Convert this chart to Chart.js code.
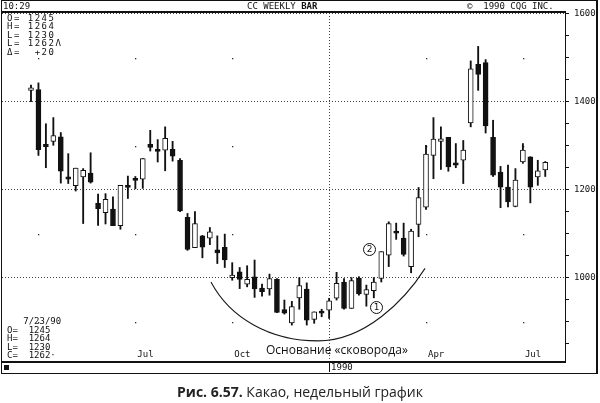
<!DOCTYPE html>
<html><head><meta charset="utf-8">
<script src="https://cdn.jsdelivr.net/npm/chart.js@4.4.1/dist/chart.umd.min.js"></script>
<style>
body{margin:0;background:#fff;}
#page{position:relative;width:600px;height:403px;overflow:hidden;background:#fff;}
#wrap{position:absolute;left:0;top:0;width:600px;height:374px;}
.a{position:absolute;}
.t{position:absolute;font-family:"DejaVu Sans Mono",monospace;font-size:9px;color:#111;white-space:pre;line-height:1;}
.ln{position:absolute;background:#111;}
.circ{position:absolute;width:11px;height:11px;border:1px solid #111;border-radius:50%;font-family:"DejaVu Sans",sans-serif;font-size:9px;line-height:11px;text-align:center;color:#111;background:#fff;}
</style></head><body>
<div id="page">
  <div id="wrap"><canvas id="c"></canvas></div>
  <div class="a" style="left:1px;top:0;width:597px;height:374px;box-sizing:border-box;border-top:1px solid #111;border-left:1px solid #111;border-right:2px solid #111;border-bottom:1px solid #111;"></div>
  <div class="ln" style="left:1px;top:11px;width:565px;height:2px;"></div>
  <div class="ln" style="left:1px;top:361px;width:565px;height:2px;"></div>
  <div class="ln" style="left:4px;top:365px;width:5px;height:5px;"></div>
  <div class="t" style="left:3px;top:2px;">10:29</div>
  <div class="t" style="left:247px;top:2px;">CC WEEKLY <b>BAR</b></div>
  <div class="t" style="left:467px;top:2px;">©  1990 CQG INC.</div>
  <div class="t" style="left:7px;top:14px;line-height:8.4px;letter-spacing:1.5px;">O= 1245
H= 1264
L= 1230
L= 1262Λ
Δ=  +20</div>
  <div class="t" style="left:7px;top:317px;line-height:8.5px;">   7/23/90
O=  1245
H=  1264
L=  1230
C=  1262·</div>
  <div class="a" style="left:266px;top:342px;font-family:'Open Sans',sans-serif;font-size:12px;line-height:16px;color:#111;white-space:nowrap;">Основание «сковорода»</div>
  <div class="circ" style="left:363px;top:243px;">2</div>
  <div class="circ" style="left:370px;top:301px;">1</div>
  <div class="a" style="left:0;top:383px;width:600px;text-align:center;font-family:'Open Sans',sans-serif;font-size:14px;line-height:18px;color:#222;white-space:nowrap;"><b>Рис. 6.57.</b> Какао, недельный график</div>
</div>
<script>
// Weekly cocoa candles, 3/27/89 .. 7/23/90 (index 0..69)
const opens  = [1426,1428,1303,1310,1320,1229,1209,1229,1238,1169,
                1148,1156,1118,1210,1226,1224,1303,1292,1290,1292,
                1267,1137,1068,1095,1090,1063,1069,1000,1013,985,
                1002,976,974,996,927,897,954,974,905,924,
                926,953,990,930,999,962,970,998,1051,1106,
                1090,1025,1121,1160,1278,1310,1319,1261,1267,1352,
                1485,1489,1319,1240,1206,1162,1263,1275,1229,1245];
const highs  = [1438,1443,1350,1364,1330,1282,1249,1248,1284,1190,
                1191,1184,1210,1231,1230,1271,1335,1314,1343,1310,
                1271,1146,1150,1096,1114,1095,1099,1034,1023,1027,
                1040,985,1008,998,949,946,1000,988,922,928,
                953,1012,998,1000,1002,983,1000,1059,1127,1124,
                1124,1110,1205,1301,1364,1343,1319,1305,1312,1493,
                1526,1496,1358,1253,1256,1248,1305,1275,1267,1264];
const lows   = [1400,1278,1250,1301,1215,1214,1197,1123,1215,1119,
                1122,1118,1110,1180,1202,1203,1288,1263,1243,1265,
                1150,1062,1068,1045,1075,1032,1023,994,975,979,
                955,958,960,920,917,892,928,892,896,911,
                907,949,928,930,960,935,954,990,1025,1087,
                1049,1011,1093,1155,1225,1246,1242,1250,1214,1343,
                1426,1329,1230,1159,1161,1161,1260,1170,1210,1230];
const closes = [1432,1291,1298,1323,1242,1224,1249,1244,1217,1157,
                1178,1118,1210,1205,1221,1271,1296,1287,1317,1276,
                1152,1064,1123,1069,1104,1056,1040,1006,996,996,
                974,968,998,921,919,934,982,903,922,919,
                947,987,930,993,963,973,990,1059,1123,1101,
                1053,1106,1182,1281,1315,1316,1252,1256,1290,1475,
                1462,1345,1233,1206,1172,1222,1290,1206,1243,1262];

const monthTicks  = [14, 27, 53, 66];
const monthLabels = ['Jul', 'Oct', 'Apr', 'Jul'];
const yearTicks   = [40];
const yearLabels  = ['1990'];
const quarterDots = [1, 14, 27, 53, 66];
const midLevels   = [900, 1100, 1300, 1500];
const yMinorTicks = [850,900,950,1000,1050,1100,1150,1200,1250,1300,1350,1400,1450,1500,1550,1600];
const yTickLabels = [1000, 1200, 1400, 1600];
// "pan" annotation arc anchors (week index, price)
const panArc = [[24.15,990],[26.7,908],[32.07,856],[38.51,856],[44.81,856],[50.18,949],[52.87,1021]];

const X_MIN = -3.89, X_MAX = 71.65, Y_MIN = 808, Y_MAX = 1602;
const mono = {family:'DejaVu Sans Mono', size:9};

const bodies = opens.map((o,i)=>({x:i, y:[o, closes[i]]}));
const wicks  = lows.map((l,i)=>({x:i, y:[l, highs[i]]}));
const bodyFill = opens.map((o,i)=> closes[i] >= o ? '#ffffff' : '#111111');

const decor = {
  id:'decor',
  beforeDatasetsDraw(chart){
    const {ctx, scales:{x, y}} = chart;
    ctx.save(); ctx.fillStyle = '#333';
    for (const q of quarterDots) for (const p of midLevels) {
      ctx.fillRect(Math.round(x.getPixelForValue(q)), Math.round(y.getPixelForValue(p)), 1.3, 1.3);
    }
    ctx.restore();
  },
  afterDatasetsDraw(chart){
    const {ctx, scales:{x, y}} = chart;
    const P = panArc.map(p=>[x.getPixelForValue(p[0]), y.getPixelForValue(p[1])]);
    ctx.save();
    ctx.strokeStyle = '#1a1a1a'; ctx.lineWidth = 1.1;
    ctx.beginPath();
    ctx.moveTo(P[0][0], P[0][1]);
    ctx.bezierCurveTo(P[1][0],P[1][1],P[2][0],P[2][1],P[3][0],P[3][1]);
    ctx.bezierCurveTo(P[4][0],P[4][1],P[5][0],P[5][1],P[6][0],P[6][1]);
    ctx.stroke();
    ctx.restore();
  }
};

new Chart(document.getElementById('c'), {
  type:'bar',
  data:{
    datasets:[
      {label:'body', data:bodies, backgroundColor:bodyFill, borderColor:'#111', borderWidth:1,
       borderSkipped:false, barThickness:5, grouped:false, xAxisID:'x', yAxisID:'y'},
      {label:'wick', data:wicks, backgroundColor:'#111', borderWidth:0,
       barThickness:1.2, grouped:false, xAxisID:'x', yAxisID:'y'}
    ]
  },
  options:{
    responsive:true, maintainAspectRatio:false, animation:false,
    layout:{padding:{left:2, top:13, right:0, bottom:0}},
    plugins:{legend:{display:false}, tooltip:{enabled:false}},
    scales:{
      x:{
        type:'linear', min:X_MIN, max:X_MAX, offset:false, position:'bottom', weight:1,
        afterBuildTicks:s=>{ s.ticks = yearTicks.map(v=>({value:v})); },
        afterFit:s=>{ s.height = 12; },
        ticks:{callback:(v,i)=>yearLabels[i], align:'start', labelOffset:2, padding:-10,
               font:mono, color:'#111', autoSkip:false, maxRotation:0, minRotation:0},
        grid:{display:true, offset:false, drawOnChartArea:true, drawTicks:true, tickLength:10,
              color:'#444', lineWidth:1, tickColor:'#111', tickWidth:1, tickBorderDash:[]},
        border:{display:false, dash:[1,2]}
      },
      x2:{
        type:'linear', min:X_MIN, max:X_MAX, offset:false, position:'bottom', weight:0,
        afterBuildTicks:s=>{ s.ticks = monthTicks.map(v=>({value:v})); },
        afterFit:s=>{ s.height = 0; },
        ticks:{callback:(v,i)=>monthLabels[i], mirror:true, align:'start', labelOffset:2, padding:2,
               font:mono, color:'#111', autoSkip:false, maxRotation:0, minRotation:0},
        grid:{display:false, offset:false, drawTicks:false},
        border:{display:false}
      },
      y:{
        position:'right', min:Y_MIN, max:Y_MAX,
        afterBuildTicks:s=>{ s.ticks = yMinorTicks.map(v=>({value:v})); },
        afterFit:s=>{ s.width = 35; },
        ticks:{callback:v=> yTickLabels.includes(v) ? String(v) : '', padding:5,
               font:mono, color:'#111', autoSkip:false},
        grid:{color:c=> (c.tick && c.tick.value % 200 === 0) ? '#444' : 'rgba(0,0,0,0)',
              tickColor:'#111', tickLength:4, drawTicks:true, lineWidth:1},
        border:{display:true, color:'#111', width:1, dash:[1,2]}
      }
    }
  },
  plugins:[decor]
});
</script>
</body></html>
